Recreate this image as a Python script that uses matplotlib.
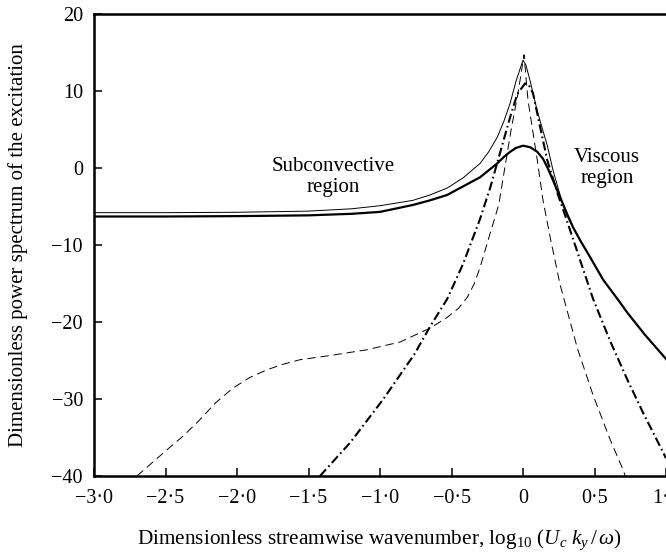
import matplotlib
matplotlib.use('Agg')
import matplotlib.pyplot as plt

plt.rcParams['font.family'] = 'Liberation Serif'
plt.rcParams['mathtext.fontset'] = 'custom'
plt.rcParams['mathtext.rm'] = 'Liberation Serif'
plt.rcParams['mathtext.it'] = 'Liberation Serif:italic'
plt.rcParams['lines.scale_dashes'] = False

# thin solid curve
x_thin = [-3.0, -2.5, -2.0, -1.5, -1.2, -1.0, -0.77, -0.65, -0.53, -0.42, -0.30,
          -0.24, -0.18, -0.135, -0.09, -0.05, -0.02, 0.0, 0.02, 0.05, 0.07, 0.10,
          0.14, 0.17, 0.21, 0.27, 0.31, 0.35]
y_thin = [-5.8, -5.8, -5.75, -5.6, -5.3, -4.9, -4.2, -3.5, -2.6, -1.3, 0.6,
          2.1, 4.0, 6.0, 8.4, 11.2, 12.9, 14.0, 13.4, 11.3, 9.7, 7.4,
          4.8, 2.9, -0.3, -4.2, -6.3, -7.7]

# thick solid curve
x_thick = [-3.0, -2.5, -2.0, -1.5, -1.2, -1.0, -0.77, -0.65, -0.53, -0.42, -0.30,
           -0.18, -0.13, -0.09, -0.05, 0.0, 0.05, 0.10, 0.14, 0.17, 0.21, 0.26,
           0.30, 0.35, 0.40, 0.47, 0.56, 0.68, 0.73, 0.85, 1.0]
y_thick = [-6.3, -6.3, -6.25, -6.15, -5.95, -5.7, -4.8, -4.2, -3.5, -2.4, -1.2,
           0.6, 1.5, 2.1, 2.6, 2.9, 2.7, 2.1, 1.2, 0.1, -1.6, -3.8,
           -5.6, -7.7, -9.4, -11.6, -14.5, -17.5, -18.8, -21.6, -24.8]

# thin dashed curve
x_dash = [-2.70, -2.49, -2.37, -2.26, -2.15, -2.03, -1.91, -1.79, -1.68, -1.56,
          -1.33, -1.09, -0.86, -0.65, -0.53, -0.45, -0.39, -0.34, -0.30, -0.23,
          -0.17, -0.13, -0.08, -0.035, 0.007, 0.035, 0.10, 0.14, 0.19, 0.26,
          0.38, 0.49, 0.61, 0.70, 0.715]
y_dash = [-40.0, -36.6, -34.7, -32.7, -30.5, -28.6, -27.2, -26.2, -25.5, -24.9,
          -24.3, -23.6, -22.6, -20.8, -19.4, -18.2, -16.8, -15.0, -12.9, -8.5,
          -4.8, -0.3, 5.3, 9.7, 14.7, 8.8, 1.0, -4.2, -9.0, -15.2,
          -23.4, -29.5, -35.3, -39.2, -40.0]

# thick dash-dot curve
x_dd = [-1.42, -1.21, -0.98, -0.76, -0.65, -0.53, -0.42, -0.30, -0.23, -0.16,
        -0.09, -0.04, 0.015, 0.04, 0.07, 0.12, 0.17, 0.24, 0.31, 0.40, 0.49,
        0.61, 0.73, 0.84, 0.96, 1.0]
y_dd = [-40.0, -35.7, -30.1, -24.2, -20.6, -17.0, -12.5, -6.6, -2.6, 2.0,
        6.6, 9.6, 11.0, 10.8, 9.7, 5.3, 1.0, -3.2, -7.0, -12.0, -17.0,
        -22.5, -27.5, -31.8, -36.2, -37.7]

xticks = [-3.0, -2.5, -2.0, -1.5, -1.0, -0.5, 0.0, 0.5, 1.0]
xtick_labels = ['\u22123\u00b70', '\u22122\u00b75', '\u22122\u00b70', '\u22121\u00b75',
                '\u22121\u00b70', '\u22120\u00b75', '0', '0\u00b75', '1\u00b70']
yticks = [-40, -30, -20, -10, 0, 10, 20]
ytick_labels = ['\u221240', '\u221230', '\u221220', '\u221210', '0', '10', '20']

fig = plt.figure(figsize=(6.66, 5.54), dpi=100)
ax = fig.add_axes([94 / 666, 1 - 476 / 554, 572 / 666, 462 / 554])

ax.plot(x_thin, y_thin, color='black', lw=0.7)
ax.plot(x_thick, y_thick, color='black', lw=1.6)
ax.plot(x_dash, y_dash, color='black', lw=0.7, dashes=(6, 3.5))
ax.plot(x_dd, y_dd, color='black', lw=1.5, dashes=(6.5, 2.5, 1.2, 2.5))

ax.set_xlim(-3, 1)
ax.set_ylim(-40, 20)
ax.set_xticks(xticks)
ax.set_xticklabels(xtick_labels)
ax.set_yticks(yticks)
ax.set_yticklabels(ytick_labels)
ax.tick_params(direction='in', length=6, width=1.1, labelsize=14.5)
ax.tick_params(axis='x', pad=9.5)
ax.tick_params(axis='y', pad=8)

for side in ['left', 'bottom', 'top']:
    ax.spines[side].set_linewidth(1.8)
ax.spines['right'].set_visible(False)

ax.text(-1.33, -0.4, 'Subconvective', ha='center', va='baseline', fontsize=15)
ax.text(-1.33, -3.1, 'region', ha='center', va='baseline', fontsize=15)
ax.text(0.587, 0.8, 'Viscous', ha='center', va='baseline', fontsize=15)
ax.text(0.587, -2.0, 'region', ha='center', va='baseline', fontsize=15)

fig.text(380 / 666, 1 - 544 / 554,
         r'Dimensionless streamwise wavenumber, log$_{10}$ ($U_c\ k_y\,/\,\omega$)',
         ha='center', va='baseline', fontsize=15.3)
fig.text(18 / 666, 1 - 245 / 554, 'Dimensionless power spectrum of the excitation',
         ha='center', va='center', rotation=90, fontsize=15)

fig.savefig('out.png', dpi=100)
